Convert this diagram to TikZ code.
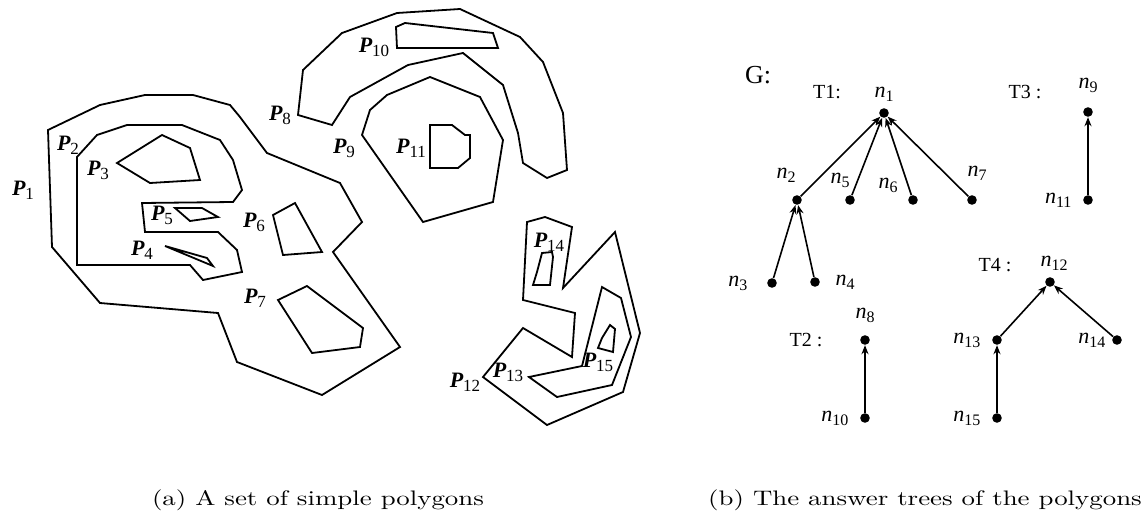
\documentclass[tikz,border=0pt]{standalone}
\usepackage{fontspec}
\usetikzlibrary{positioning,arrows.meta}
\newfontfamily\lblfont{Liberation Serif}
\newcommand{\plab}[1]{{\lblfont\fontsize{11}{13}\selectfont\bfseries\itshape P\raisebox{-0.4ex}{\fontsize{8.5}{10}\selectfont\mdseries\upshape #1}}}
\newcommand{\nlab}[1]{{\lblfont\fontsize{11}{13}\selectfont\itshape n\raisebox{-0.4ex}{\fontsize{8}{9}\selectfont\upshape #1}}}
\newcommand{\wide}[1]{\scalebox{1.28}[1]{\fontsize{10.5}{12}\selectfont #1}}

\begin{document}
\begin{tikzpicture}[x=0.5pt, y=-0.5pt,
  poly/.style={line width=0.9pt},
  treedot/.style={circle, fill, inner sep=0pt, minimum size=4.8pt},
  treeline/.style={line width=0.8pt, -{Stealth[length=4.5pt,width=3.5pt]}},
  lbl/.style={inner sep=0.5pt},
  tlbl/.style={inner sep=0.5pt, font=\lblfont\fontsize{10}{12}\selectfont}]
\useasboundingbox (0,0) rectangle (1147,520);
% (a) polygons
\draw[poly] (48,130) -- (100,105) -- (145,95) -- (193,95) -- (230,105) -- (240,117) -- (267,153) -- (340,183) -- (362,222) -- (333,252) -- (400,347) -- (322,395) -- (237,362) -- (218,313) -- (100,303) -- (52,247) -- cycle;
\draw[poly] (77,265) -- (77,157) -- (97,135) -- (127,125) -- (182,125) -- (220,140) -- (233,160) -- (242,190) -- (233,202) -- (142,203) -- (145,232) -- (218,232) -- (237,250) -- (242,272) -- (203,280) -- (190,265) -- cycle;
\draw[poly] (117,163) -- (162,135) -- (190,148) -- (200,180) -- (150,183) -- cycle;
\draw[poly] (165,246) -- (207,258) -- (213,266) -- cycle;
\draw[poly] (175,208) -- (202,208) -- (218,217) -- (190,221) -- cycle;
\draw[poly] (273,215) -- (295,203) -- (322,252) -- (283,255) -- cycle;
\draw[poly] (278,300) -- (307,286) -- (363,328) -- (360,347) -- (312,353) -- cycle;
\draw[poly] (298,115) -- (303,70) -- (342,33) -- (397,13) -- (460,9) -- (520,37) -- (543,62) -- (563,113) -- (567,170) -- (547,178) -- (523,163) -- (518,133) -- (503,85) -- (463,53) -- (408,65) -- (350,97) -- (332,125) -- cycle;
\draw[poly] (362,135) -- (370,110) -- (387,95) -- (430,77) -- (480,97) -- (503,140) -- (493,202) -- (423,222) -- cycle;
\draw[poly] (396,27) -- (405,23) -- (493,33) -- (498,48) -- (397,48) -- cycle;
\draw[poly] (430,125) -- (452,125) -- (465,135) -- (470,135) -- (470,158) -- (458,168) -- (430,168) -- cycle;
\draw[poly] (483,377) -- (523,328) -- (572,357) -- (575,313) -- (523,300) -- (527,222) -- (545,217) -- (572,227) -- (563,288) -- (615,232) -- (640,333) -- (623,392) -- (547,425) -- cycle;
\draw[poly] (529,377) -- (582,366) -- (602,287) -- (621,298) -- (631,337) -- (612,385) -- (557,397) -- cycle;
\draw[poly] (542,253) -- (552,252) -- (553,257) -- (550,285) -- (533,285) -- (537,272) -- cycle;
\draw[poly] (610,325) -- (615,329) -- (613,352) -- (598,348) -- (602,338) -- cycle;
\node[lbl] (p1) at (23,190) {\plab{1}};
\node[lbl] (p2) at (68,145) {\plab{2}};
\node[lbl] (p3) at (98,170) {\plab{3}};
\node[lbl] (p4) at (142,250) {\plab{4}};
\node[lbl] (p5) at (162,215) {\plab{5}};
\node[lbl] (p6) at (254,222) {\plab{6}};
\node[lbl] (p7) at (255,298) {\plab{7}};
\node[lbl] (p8) at (280,115) {\plab{8}};
\node[lbl] (p9) at (344,148) {\plab{9}};
\node[lbl] (p10) at (374,47) {\plab{10}};
\node[lbl] (p11) at (411,148) {\plab{11}};
\node[lbl] (p12) at (465,382) {\plab{12}};
\node[lbl] (p13) at (508,372) {\plab{13}};
\node[lbl] (p14) at (549,242) {\plab{14}};
\node[lbl] (p15) at (598,362) {\plab{15}};
\node (capa) at (318,500) {\wide{(a) A set of simple polygons}};
% (b) answer trees
\node[lbl, font=\lblfont\fontsize{13}{15}\selectfont] (g) at (758,75) {G:};
\node[tlbl] (t1) at (827,92) {T1:};
\node[tlbl] (t2) at (806,340) {T2 :};
\node[tlbl] (t3) at (1025,92) {T3 :};
\node[tlbl] (t4) at (995,265) {T4 :};
\node[treedot] (n1) at (884,113) {};
\node[treedot] (n2) at (797,200) {};
\node[treedot] (n5) at (850,200) {};
\node[treedot] (n6) at (913,200) {};
\node[treedot] (n7) at (972,200) {};
\node[treedot] (n3) at (772,283) {};
\node[treedot] (n4) at (815,282) {};
\node[treedot] (n9) at (1088,112) {};
\node[treedot] (n11) at (1088,200) {};
\node[treedot] (n8) at (865,340) {};
\node[treedot] (n10) at (865,418) {};
\node[treedot] (n12) at (1050,282) {};
\node[treedot] (n13) at (997,340) {};
\node[treedot] (n14) at (1117,340) {};
\node[treedot] (n15) at (997,418) {};
\node[lbl, above=2.5pt of n1] {\nlab{1}};
\node[lbl, above=5.5pt of n2, xshift=-5.5pt] {\nlab{2}};
\node[lbl, left=9pt of n3] {\nlab{3}};
\node[lbl, right=7pt of n4] {\nlab{4}};
\node[lbl, above=3pt of n5, xshift=-5pt] {\nlab{5}};
\node[lbl, above=0.5pt of n6, xshift=-12.5pt] {\nlab{6}};
\node[lbl, above=6.5pt of n7, xshift=2.5pt] {\nlab{7}};
\node[lbl, above=5.5pt of n8] {\nlab{8}};
\node[lbl, above=6.5pt of n9] {\nlab{9}};
\node[lbl, left=5pt of n10] {\nlab{10}};
\node[lbl, left=5pt of n11] {\nlab{11}};
\node[lbl, above=2.5pt of n12, xshift=2pt] {\nlab{12}};
\node[lbl, left=5pt of n13] {\nlab{13}};
\node[lbl, left=2.5pt of n14] {\nlab{14}};
\node[lbl, left=5pt of n15] {\nlab{15}};
\draw[treeline] (n2) -- (n1); \draw[treeline] (n5) -- (n1);
\draw[treeline] (n6) -- (n1); \draw[treeline] (n7) -- (n1);
\draw[treeline] (n3) -- (n2); \draw[treeline] (n4) -- (n2);
\draw[treeline] (n11) -- (n9); \draw[treeline] (n10) -- (n8);
\draw[treeline] (n13) -- (n12); \draw[treeline] (n14) -- (n12);
\draw[treeline] (n15) -- (n13);
\node (capb) at (925,500) {\wide{(b) The answer trees of the polygons}};
\end{tikzpicture}
\end{document}
